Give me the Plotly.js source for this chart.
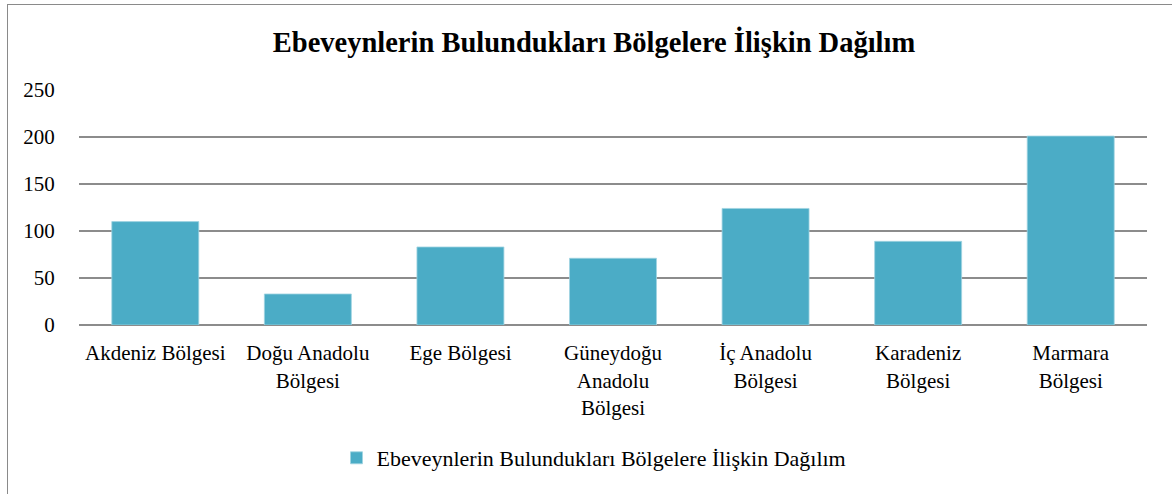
<!DOCTYPE html>
<html>
<head>
<meta charset="utf-8">
<script src="https://cdn.plot.ly/plotly-3.0.1.min.js"></script>
<style>
  html, body { margin: 0; padding: 0; background: #fff; }
  #wrap { position: relative; width: 1172px; height: 494px; overflow: hidden; }
  #chart { position: absolute; left: 0; top: 0; width: 1172px; height: 494px; }
  #frame { position: absolute; left: 7px; top: 4px; width: 1200px; height: 520px;
           border: 1.5px solid #8a8a8a; pointer-events: none; box-sizing: border-box; }
</style>
</head>
<body>
<div id="wrap">
  <div id="chart"></div>
  <div id="frame"></div>
</div>
<script>
const chartTitle = "Ebeveynlerin Bulundukları Bölgelere İlişkin Dağılım";
const seriesName = "Ebeveynlerin Bulundukları Bölgelere İlişkin Dağılım";
const categories = ["Akdeniz Bölgesi", "Doğu Anadolu Bölgesi", "Ege Bölgesi",
  "Güneydoğu Anadolu Bölgesi", "İç Anadolu Bölgesi", "Karadeniz Bölgesi", "Marmara Bölgesi"];
const tickLabels = ["Akdeniz Bölgesi", "Doğu Anadolu<br>Bölgesi", "Ege Bölgesi",
  "Güneydoğu<br>Anadolu<br>Bölgesi", "İç Anadolu<br>Bölgesi", "Karadeniz<br>Bölgesi", "Marmara<br>Bölgesi"];
const values = [110, 33, 83, 71, 124, 89, 201];
const yTicks = [0, 50, 100, 150, 200, 250];

const font = "'Liberation Serif', 'DejaVu Serif', serif";

const trace = {
  type: "bar",
  x: categories,
  y: values,
  name: seriesName,
  marker: { color: "#4BACC6", line: { color: "#9fd3e1", width: 0.8 } },
  showlegend: true,
  hoverinfo: "x+y"
};

const layout = {
  width: 1172,
  height: 494,
  margin: { l: 79, r: 25, t: 90, b: 169, pad: 0 },
  paper_bgcolor: "rgba(0,0,0,0)",
  plot_bgcolor: "rgba(0,0,0,0)",
  font: { family: font, size: 21, color: "#000" },
  title: {
    text: "<b>" + chartTitle + "</b>",
    font: { family: font, size: 28.5, color: "#000" },
    x: 594 / 1172, xref: "container", xanchor: "center",
    y: 1 - 42 / 494, yref: "container", yanchor: "middle"
  },
  bargap: 0.43,
  xaxis: {
    type: "category",
    tickvals: categories,
    ticktext: tickLabels,
    tickangle: 0,
    ticks: "outside", ticklen: 9, tickcolor: "rgba(0,0,0,0)",
    showgrid: false, showline: false, zeroline: false,
    tickfont: { family: font, size: 21, color: "#000" },
    automargin: false
  },
  yaxis: {
    range: [0, 250],
    tickvals: yTicks,
    ticktext: yTicks.map(String),
    ticks: "outside", ticklen: 19, tickcolor: "rgba(0,0,0,0)",
    showgrid: true, gridcolor: "#8c8c8c", gridwidth: 1.8,
    zeroline: true, zerolinecolor: "#8c8c8c", zerolinewidth: 1.8,
    showline: false,
    tickfont: { family: font, size: 21, color: "#000" },
    automargin: false
  },
  legend: {
    orientation: "h",
    x: (594 - 79) / 1068, xanchor: "center",
    y: -0.566, yanchor: "middle",
    font: { family: font, size: 22, color: "#000" },
    itemwidth: 30,
    bgcolor: "rgba(0,0,0,0)"
  }
};

Plotly.newPlot("chart", [trace], layout, { displayModeBar: false, staticPlot: true });
</script>
</body>
</html>
